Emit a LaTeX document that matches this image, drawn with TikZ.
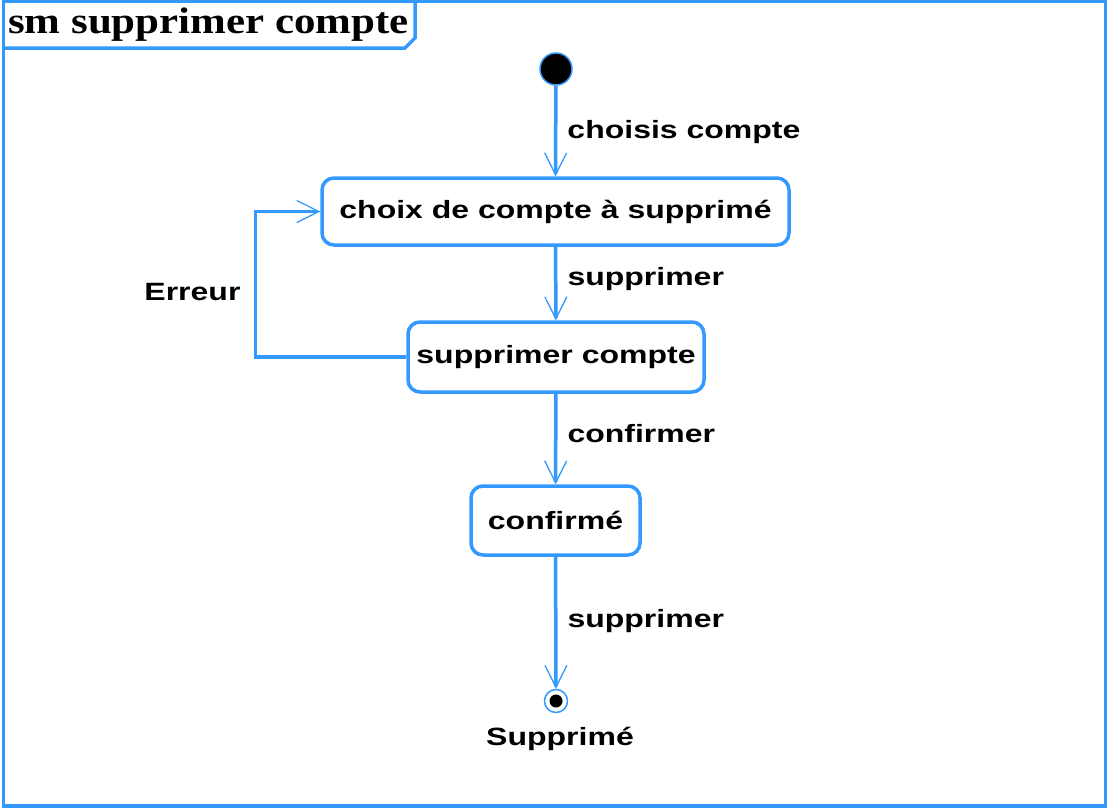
\documentclass[tikz,border=0pt]{standalone}
\usepackage{fontspec}
\setmainfont{Liberation Sans}[FakeStretch=1.28]
\newfontfamily\titlefont{Liberation Serif}[FakeStretch=1.16]
\usepackage{tikz}
\usetikzlibrary{arrows.meta}

\definecolor{umlblue}{RGB}{51,153,255}

\begin{document}
\begin{tikzpicture}[x=1pt, y=-1pt,
  every node/.style = {font=\fontsize{25}{28}\selectfont\bfseries},
  state/.style = {shape=rectangle, rounded corners=12pt, draw=umlblue,
    line width=3.5pt, fill=white, align=center, inner sep=0pt},
  trans/.style = {draw=umlblue, line width=3.5pt,
    -{Straight Barb[length=22pt, width=22pt, line width=1.3pt]}},
  lbl/.style = {anchor=west, inner sep=0pt}]
  \useasboundingbox (0,0) rectangle (1109,809);
  % frame and tab
  \draw[umlblue, line width=3.5pt] (3.5,1.5) rectangle (1105.5,806);
  \draw[umlblue, line width=3.5pt] (3.5,48) -- (405,48) -- (415,38) -- (415,1.5);
  \node[anchor=west, inner sep=0pt, font=\fontsize{37}{40}\selectfont\titlefont\bfseries]
    (titre) at (8,25) {sm supprimer compte};

  % states
  \node[state, minimum width=467pt, minimum height=67pt] (choix) at (555.5,211.5) {choix de compte à supprimé};
  \node[state, minimum width=296pt, minimum height=70pt] (suppr) at (556,357) {supprimer compte};
  \node[state, minimum width=169pt, minimum height=69pt] (conf) at (555.5,520.5) {confirmé};
  \node[circle, fill=black, draw=umlblue, line width=1.5pt, minimum size=32pt, inner sep=0pt] (init) at (556,69) {};
  \node[circle, fill=white, draw=umlblue, line width=1.5pt, minimum size=23pt, inner sep=0pt] (fin) at (556,701) {};
  \fill[black] (fin) circle (6.5pt);
  \node[below=14pt, inner sep=0pt, xshift=4pt] (finlbl) at (fin.south) {Supprimé};

  % transitions
  \draw[trans] (init) -- (choix.north) node[lbl, pos=0.5, xshift=10pt, yshift=-1pt] {choisis compte};
  \draw[trans] (choix) -- (suppr) node[lbl, pos=0.5, xshift=10pt, yshift=4pt] {supprimer};
  \draw[trans] (suppr) -- (conf) node[lbl, pos=0.5, xshift=10pt, yshift=5pt] {confirmer};
  \draw[trans] (conf) -- (fin) node[lbl, pos=0.45, xshift=10pt, yshift=-5pt] {supprimer};
  \draw[trans] (suppr.west) -- ++(-151,0) |- (choix.west)
    node[pos=0.222, anchor=east, inner sep=0pt, xshift=-13pt] {Erreur};
\end{tikzpicture}
\end{document}
